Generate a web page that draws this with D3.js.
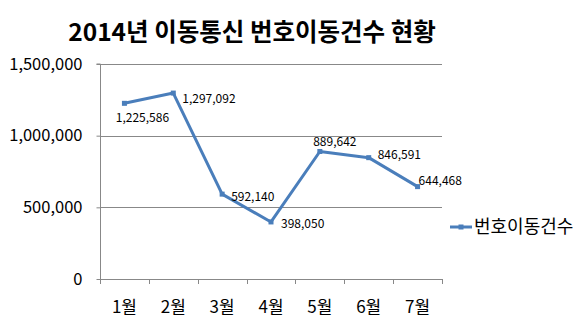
<!DOCTYPE html>
<html><head><meta charset="utf-8">
<script src="https://cdn.jsdelivr.net/npm/d3@7"></script>
<style>body{margin:0;background:#fff}svg{display:block}</style>
</head><body>
<svg id="c" width="580" height="325"></svg>
<script>
const title = "2014년 이동통신 번호이동건수 현황";
const months = ["1월","2월","3월","4월","5월","6월","7월"];
const values = [1225586,1297092,592140,398050,889642,846591,644468];
const yTicks = [0,500000,1000000,1500000];
const seriesName = "번호이동건수";
// label placement offsets (dx, dy, anchor)
const labelPos = [[18,15,"middle"],[9,6,"start"],[9,3,"start"],[10,2,"start"],[15,-9,"middle"],[9,-3,"start"],[1,-6,"start"]];

const font = "'Noto Sans CJK KR','Malgun Gothic',sans-serif";
const svg = d3.select("#c");
const m = {l:100,r:442,t:64,b:279};
const x = d3.scaleBand().domain(months).range([m.l,m.r]);
const y = d3.scaleLinear().domain([0,1500000]).range([m.b,m.t]);
const color = "#4a7ebb";

svg.append("text").attr("x",252).attr("y",41).attr("text-anchor","middle")
  .attr("font-family",font).attr("font-weight","bold").attr("font-size",24.5).attr("fill","#000").text(title);

// gridlines
svg.append("g").selectAll("line").data(yTicks.filter(d=>d>0)).join("line")
  .attr("x1",m.l).attr("x2",m.r).attr("y1",d=>Math.round(y(d))+0.5).attr("y2",d=>Math.round(y(d))+0.5)
  .attr("stroke","#888").attr("stroke-width",1);

// y axis
const ya = svg.append("g").attr("transform",`translate(${m.l+0.5},0)`)
  .call(d3.axisLeft(y).tickValues(yTicks).tickSize(4).tickPadding(14).tickFormat(d3.format(",")));
ya.select(".domain").attr("stroke","#888").attr("d",`M-4,${m.t}H0V${m.b}`);
ya.selectAll(".tick line").attr("stroke","#888");
ya.selectAll("text").attr("font-family",font).attr("font-size",16.5).attr("fill","#000");

// x axis
const xa = svg.append("g").attr("transform",`translate(0,${m.b+0.5})`)
  .call(d3.axisBottom(x).tickSize(0).tickPadding(21));
xa.select(".domain").attr("stroke","#888").attr("d",`M${m.l},0H${m.r}`);
xa.selectAll("text").attr("font-family",font).attr("font-size",17).attr("fill","#000");
const bounds = months.map(d=>x(d)).concat([m.r]);
svg.append("g").selectAll("line").data(bounds).join("line")
  .attr("x1",d=>Math.round(d)+0.5).attr("x2",d=>Math.round(d)+0.5).attr("y1",m.b).attr("y2",m.b+5)
  .attr("stroke","#888");

// line
const cx = d=>x(d)+x.bandwidth()/2;
const line = d3.line().x((d,i)=>cx(months[i])).y(d=>y(d));
svg.append("path").datum(values).attr("d",line).attr("fill","none")
  .attr("stroke",color).attr("stroke-width",3).attr("stroke-linejoin","round");
svg.append("g").selectAll("rect").data(values).join("rect")
  .attr("x",(d,i)=>cx(months[i])-2.5).attr("y",d=>y(d)-2.5).attr("width",5).attr("height",5)
  .attr("fill",color);

// labels
svg.append("g").selectAll("text").data(values).join("text")
  .attr("x",(d,i)=>cx(months[i])+labelPos[i][0]).attr("y",(d,i)=>y(d)+labelPos[i][1]+4)
  .attr("text-anchor",(d,i)=>labelPos[i][2])
  .attr("font-family",font).attr("font-size",12).attr("fill","#000").text(d=>d3.format(",")(d));

// legend
svg.append("line").attr("x1",450).attr("x2",472).attr("y1",227).attr("y2",227).attr("stroke",color).attr("stroke-width",3);
svg.append("rect").attr("x",458.5).attr("y",224.5).attr("width",5).attr("height",5).attr("fill",color);
svg.append("text").attr("x",474).attr("y",233).attr("font-family",font).attr("font-size",18).attr("fill","#000").text(seriesName);
</script>
</body></html>
